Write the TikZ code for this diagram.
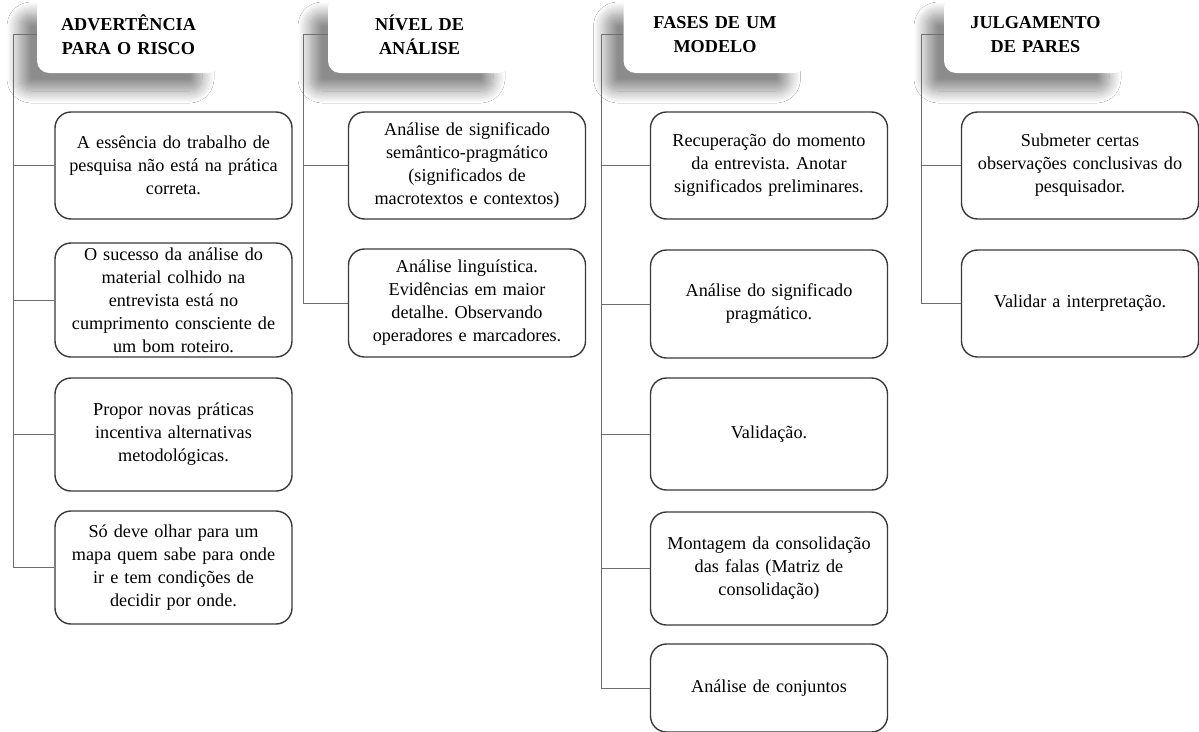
\documentclass[tikz,border=0pt]{standalone}
\usepackage{fontspec}
\setmainfont{Liberation Serif}
\usetikzlibrary{shadows.blur}
\definecolor{boxline}{HTML}{3A3A3A}
\definecolor{connline}{HTML}{6E6E6E}
\tikzset{
  itembox/.style={draw=boxline, line width=1.4pt, rounded corners=16pt, fill=white,
    minimum width=237pt, text width=236pt, inner sep=0pt, align=center,
    font=\fontsize{18.2}{23}\selectfont\frenchspacing},
  hdrbox/.style={fill=white, rounded corners=12pt, minimum width=183pt, minimum height=77pt,
    text width=183pt, inner sep=0pt, align=center,
    font=\fontsize{18.2}{24}\selectfont\bfseries,
    blur shadow={shadow xshift=-18pt, shadow yshift=-18pt, shadow blur radius=12pt,
      shadow blur steps=16, shadow opacity=45}},
  conn/.style={draw=connline, line width=1pt}
}
\begin{document}
\begin{tikzpicture}[x=1pt,y=-1pt]
\useasboundingbox (0,0) rectangle (1199,731);
\fill[white] (0,0) rectangle (1199,731);
\begin{scope}
\clip (0,0) rectangle (1199,731);
% headers
\node[hdrbox] (h1) at (128.5,34.5) {ADVERTÊNCIA\\PARA O RISCO};
\node[hdrbox] (h2) at (419.5,34.5) {NÍVEL DE\\ANÁLISE};
\node[hdrbox] (h3) at (715,34.5) {FASES DE UM\\MODELO};
\node[hdrbox] (h4) at (1035.5,34.5) {JULGAMENTO\\DE PARES};
% column 1
\node[itembox, minimum height=107pt] (b11) at (173.5,165.5) {A essência do trabalho de\\pesquisa não está na prática\\correta.};
\node[itembox, minimum height=114pt] (b12) at (173.5,300) {O sucesso da análise do\\material colhido na\\entrevista está no\\cumprimento consciente de\\um bom roteiro.};
\node[itembox, minimum height=113pt] (b13) at (173.5,434.5) {Propor novas práticas\\incentiva alternativas\\metodológicas.};
\node[itembox, minimum height=113pt] (b14) at (173.5,567.5) {Só deve olhar para um\\mapa quem sabe para onde\\ir e tem condições de\\decidir por onde.};
% column 2
\node[itembox, minimum height=107pt] (b21) at (467,165.5) {Análise de significado\\semântico-pragmático\\(significados de\\macrotextos e contextos)};
\node[itembox, minimum height=108pt] (b22) at (467,303) {Análise linguística.\\Evidências em maior\\detalhe. Observando\\operadores e marcadores.};
% column 3
\node[itembox, minimum height=107pt] (b31) at (769,165.5) {Recuperação do momento\\da entrevista. Anotar\\significados preliminares.};
\node[itembox, minimum height=108pt] (b32) at (769,304) {Análise do significado\\pragmático.};
\node[itembox, minimum height=112pt] (b33) at (769,434) {Validação.};
\node[itembox, minimum height=113pt] (b34) at (769,568.5) {Montagem da consolidação\\das falas (Matriz de\\consolidação)};
\node[itembox, minimum height=88pt] (b35) at (769,688) {Análise de conjuntos};
% column 4
\node[itembox, minimum height=107pt] (b41) at (1080,165.5) {Submeter certas\\observações conclusivas do\\pesquisador.};
\node[itembox, minimum height=107pt] (b42) at (1080,303.5) {Validar a interpretação.};
% connectors
\coordinate (v1) at (13,34.5);
\coordinate (v2) at (303,34.5);
\coordinate (v3) at (601,34.5);
\coordinate (v4) at (921,34.5);
\draw[conn] (h1.west) -- (v1) |- (b14.west);
\draw[conn] (v1 |- b11.west) -- (b11.west);
\draw[conn] (v1 |- b12.west) -- (b12.west);
\draw[conn] (v1 |- b13.west) -- (b13.west);
\draw[conn] (h2.west) -- (v2) |- (b22.west);
\draw[conn] (v2 |- b21.west) -- (b21.west);
\draw[conn] (h3.west) -- (v3) |- (b35.west);
\draw[conn] (v3 |- b31.west) -- (b31.west);
\draw[conn] (v3 |- b32.west) -- (b32.west);
\draw[conn] (v3 |- b33.west) -- (b33.west);
\draw[conn] (v3 |- b34.west) -- (b34.west);
\draw[conn] (h4.west) -- (v4) |- (b42.west);
\draw[conn] (v4 |- b41.west) -- (b41.west);
\end{scope}
\end{tikzpicture}
\end{document}
